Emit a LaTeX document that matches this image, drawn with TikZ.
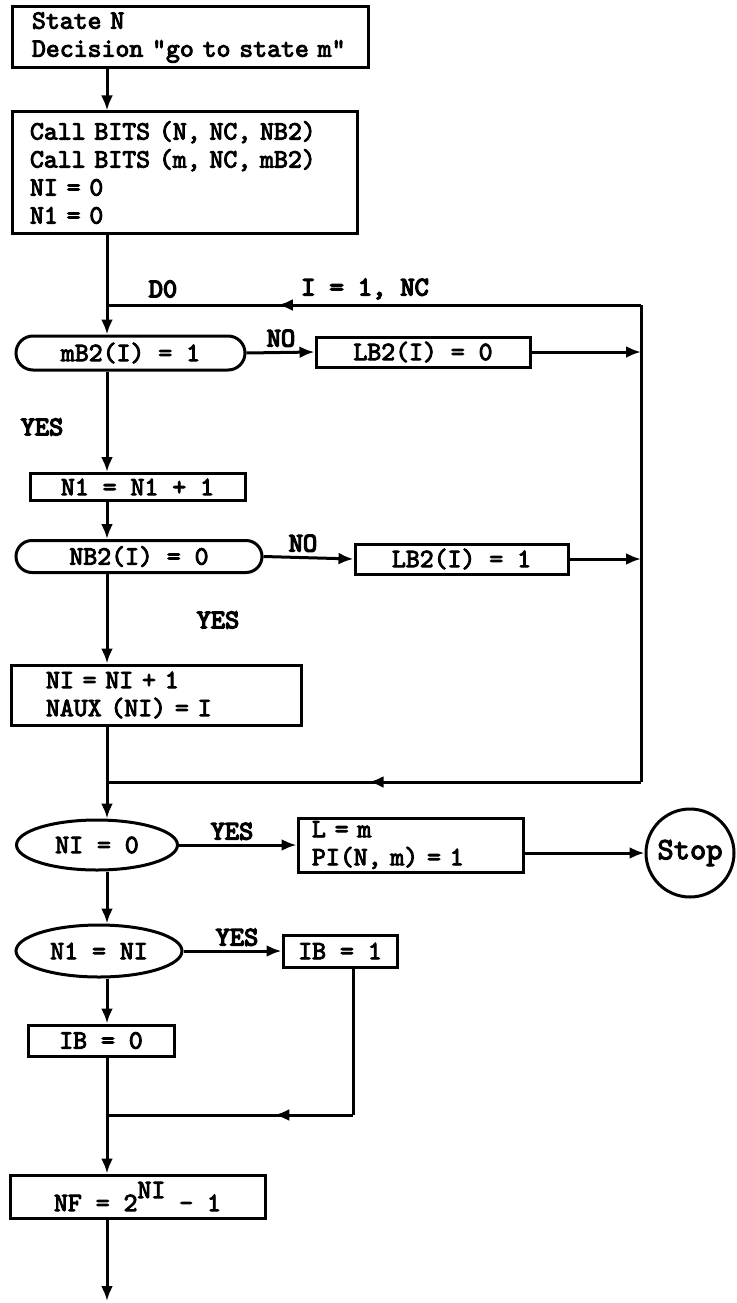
\documentclass[tikz,border=0pt]{standalone}
\usepackage{fontspec}
\newfontfamily\bxfont{lmmono10-regular.otf}[FakeBold=3.5]
\newfontfamily\lblfont{lmmono10-regular.otf}[FakeBold=5]
\usetikzlibrary{shapes.geometric,shapes.misc,arrows.meta,decorations.markings}
\tikzset{
  lw/.style={line width=3pt},
  box/.style={draw, lw, rectangle, inner sep=0pt, font=\bxfont\fontsize{26.5pt}{28pt}\selectfont},
  stad/.style={draw, lw, rounded rectangle, inner sep=0pt, font=\bxfont\fontsize{26.5pt}{28pt}\selectfont},
  oval/.style={draw, lw, ellipse, inner sep=0pt, font=\bxfont\fontsize{26.5pt}{28pt}\selectfont},
  flow/.style={lw, -{Latex[length=15pt,width=12pt]}},
  lbl/.style={inner sep=0pt, font=\lblfont\fontsize{27pt}{28pt}\selectfont},
  midarrow/.style={lw, postaction={decorate}, decoration={markings, mark=at position #1 with {\arrow{Latex[length=15pt,width=12pt]}}}}
}
\begin{document}
\begin{tikzpicture}[x=1pt,y=-1pt]
\useasboundingbox (0,0) rectangle (736,1303);
\coordinate (mx) at (107,0);
% boxes
\node[box, align=left, text width=316pt, inner xsep=20pt, minimum height=61pt] (b1) at (190,37.5)
  {State N\\Decision "go to state m"};
\node[box, align=left, text width=309pt, inner xsep=18pt, minimum height=121pt] (b2) at (184.5,172.5)
  {Call BITS (N, NC, NB2)\\Call BITS (m, NC, mB2)\\NI = 0\\N1 = 0};
\node[stad, minimum width=229pt, minimum height=34pt] (mb) at (130.5,353) {mB2(I) = 1};
\node[box, minimum width=214pt, minimum height=30pt] (lb0) at (423,352) {LB2(I) = 0};
\node[box, minimum width=215pt, minimum height=27pt] (n1) at (137.5,487) {N1 = N1 + 1};
\node[stad, minimum width=246pt, minimum height=32pt] (nb) at (139,556.5) {NB2(I) = 0};
\node[box, minimum width=213pt, minimum height=30pt] (lb1) at (461.5,559) {LB2(I) = 1};
\node[box, align=left, text width=220pt, inner xsep=35pt, minimum height=60pt] (nib) at (156,695)
  {NI = NI + 1\\NAUX (NI) = I};
\node[oval, minimum width=161pt, minimum height=50pt] (ni0) at (97,845) {NI = 0};
\node[box, align=left, text width=197pt, inner xsep=14pt, minimum height=54pt] (lm) at (410.5,845)
  {L = m\\PI(N, m) = 1};
\node[draw, lw, circle, minimum size=88pt, inner sep=0pt, font=\bxfont\fontsize{31pt}{32pt}\selectfont] (stop) at (690,853) {Stop};
\node[oval, minimum width=166pt, minimum height=52pt] (nn) at (99,951) {N1 = NI};
\node[box, minimum width=114pt, minimum height=32pt] (ib1) at (340,951) {IB = 1};
\node[box, minimum width=146pt, minimum height=31pt] (ib0) at (101,1040.5) {IB = 0};
\node[box, minimum width=255pt, minimum height=43pt] (nf) at (137.5,1196.5) {NF = 2\raisebox{13pt}{NI} - 1};
% coordinates
\coordinate (lt) at (107,305);
\coordinate (rt) at (641,305);
\coordinate (rb) at (641,782);
\coordinate (lb) at (107,782);
\coordinate (ibr) at (353,1115);
\coordinate (ibl) at (107,1115);
\coordinate (fin) at (107,1301);
% labels
\node[lbl] (d0) at (163,289) {D0};
\node[lbl] (inc) at (365,289) {I = 1, NC};
\node[lbl, anchor=south] (no1) at (281,347) {NO};
\node[lbl] (yes1) at (42,427) {YES};
\node[lbl, anchor=south] (no2) at (303,552) {NO};
\node[lbl] (yes2) at (218,620) {YES};
\node[lbl, anchor=south] (yes3) at (232,840) {YES};
\node[lbl, anchor=south] (yes4) at (237,946) {YES};
% connectors
\draw[flow] (b1.south -| mx) -- (b2.north -| mx);
\draw[flow] (b2.south -| mx) -- (mb.north -| mx);
\draw[lw] (rb) -- (rt);
\draw[midarrow=0.68] (rt) -- (lt);
\draw[flow] (mb.east) -- (lb0.west);
\draw[flow] (lb0.east) -- (lb0.east -| rt);
\draw[flow] (mb.south -| mx) -- (n1.north -| mx);
\draw[flow] (n1.south -| mx) -- (nb.north -| mx);
\draw[flow] (nb.east) -- (lb1.west);
\draw[flow] (lb1.east) -- (lb1.east -| rt);
\draw[flow] (nb.south -| mx) -- (nib.north -| mx);
\draw[lw] (nib.south -| mx) -- (lb);
\draw[midarrow=0.51] (rb) -- (lb);
\draw[flow] (lb) -- (ni0.north -| mx);
\draw[flow] (ni0.east) -- (lm.west);
\draw[flow] (lm.east |- stop) -- (stop.west);
\draw[flow] (ni0.south -| mx) -- (nn.north -| mx);
\draw[flow] (nn.east) -- (ib1.west);
\draw[flow] (nn.south -| mx) -- (ib0.north -| mx);
\draw[lw] (ib1.south -| ibr) -- (ibr);
\draw[midarrow=0.32] (ibr) -- (ibl);
\draw[lw] (ib0.south -| mx) -- (ibl);
\draw[flow] (ibl) -- (nf.north -| mx);
\draw[flow] (nf.south -| mx) -- (fin);
\end{tikzpicture}
\end{document}
